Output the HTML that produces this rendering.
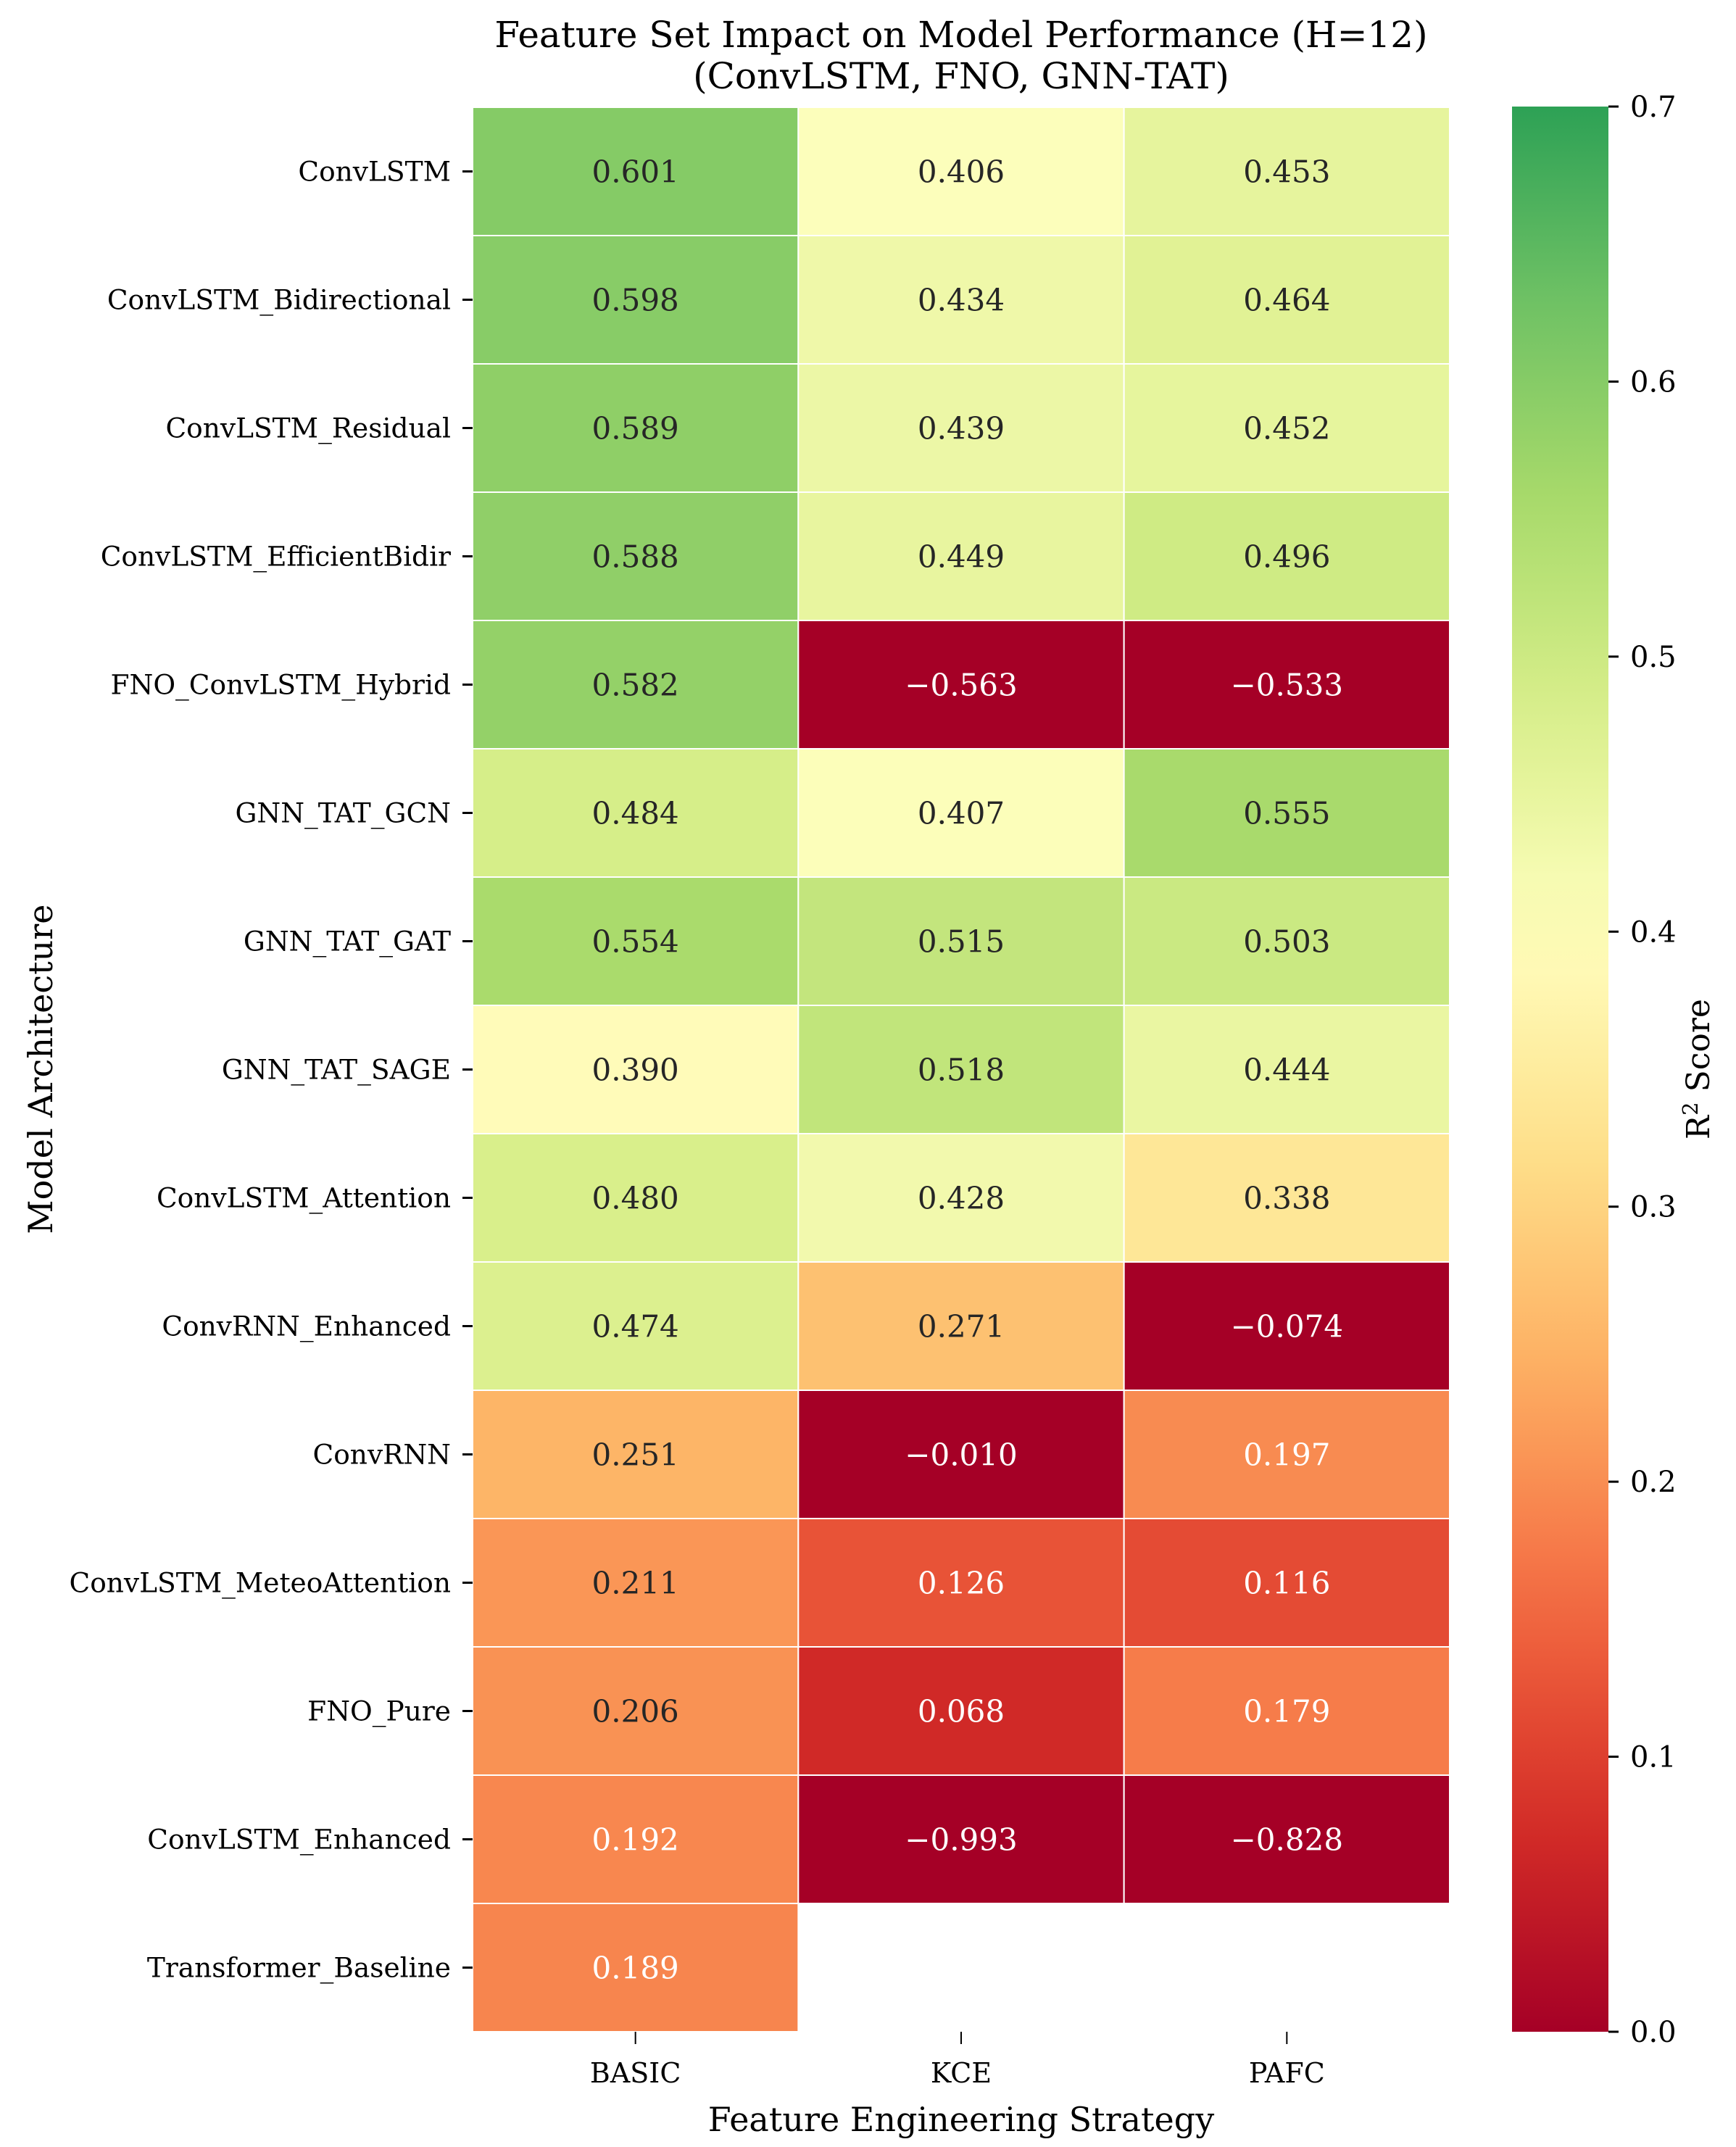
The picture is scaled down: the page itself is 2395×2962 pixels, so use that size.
<!DOCTYPE html>
<html><head><meta charset="utf-8"><style>
html,body{margin:0;padding:0;background:#fff}
svg{display:block;font-family:"DejaVu Serif","Liberation Serif",serif}
</style></head><body>
<svg id="chart" width="2395" height="2962" viewBox="0 0 2395 2962" xmlns="http://www.w3.org/2000/svg">
<defs>
<linearGradient id="cbgrad" x1="0" y1="1" x2="0" y2="0"></linearGradient>
</defs>
<text x="1326" y="65" font-size="50" text-anchor="middle">Feature Set Impact on Model Performance (H=12)</text>
<text x="1326" y="122" font-size="50" text-anchor="middle">(ConvLSTM, FNO, GNN-TAT)</text>
<g id="cells"></g>
<g id="yticks"></g>
<g id="xticks"></g>
<text transform="translate(72,1475) rotate(-90)" font-size="46" text-anchor="middle">Model Architecture</text>
<text x="1326" y="2940" font-size="46" text-anchor="middle">Feature Engineering Strategy</text>
<g id="colorbar"></g>
<text transform="translate(2358,1475) rotate(-90)" font-size="44" text-anchor="middle">R<tspan dy="-16" font-size="29">2</tspan><tspan dy="16"> Score</tspan></text>
</svg>
<script>
const models = ["ConvLSTM","ConvLSTM_Bidirectional","ConvLSTM_Residual","ConvLSTM_EfficientBidir","FNO_ConvLSTM_Hybrid","GNN_TAT_GCN","GNN_TAT_GAT","GNN_TAT_SAGE","ConvLSTM_Attention","ConvRNN_Enhanced","ConvRNN","ConvLSTM_MeteoAttention","FNO_Pure","ConvLSTM_Enhanced","Transformer_Baseline"];
const strategies = ["BASIC","KCE","PAFC"];
const basicValues = [0.601,0.598,0.589,0.588,0.582,0.484,0.554,0.390,0.480,0.474,0.251,0.211,0.206,0.192,0.189];
const kceValues = [0.406,0.434,0.439,0.449,-0.563,0.407,0.515,0.518,0.428,0.271,-0.010,0.126,0.068,-0.993,null];
const pafcValues = [0.453,0.464,0.452,0.496,-0.533,0.555,0.503,0.444,0.338,-0.074,0.197,0.116,0.179,-0.828,null];
const cbTicks = [0.0,0.1,0.2,0.3,0.4,0.5,0.6,0.7];
const vmin = 0, vmax = 0.7, cmapMax = 0.8;

const NS = "http://www.w3.org/2000/svg";
const L = 652, R = 2000, T = 148, B = 2803;
const colW = (R - L) / strategies.length, rowH = (B - T) / models.length;
const xPos = i => L + i * colW;
const yPos = i => T + i * rowH;
const stops = ["#a50026","#d73027","#f46d43","#fdae61","#fee08b","#ffffbf","#d9ef8b","#a6d96a","#66bd63","#1a9850","#006837"].map(h=>[1,3,5].map(k=>parseInt(h.substr(k,2),16)));
function cmap(v){
  let t = (Math.min(v, vmax) - vmin) / (cmapMax - vmin); t = Math.max(0, Math.min(1, t));
  const p = t * 10, i = Math.min(9, Math.floor(p)), f = p - i;
  return stops[i].map((c,k)=>Math.round(c + (stops[i+1][k]-c)*f));
}
function lum(rgb){
  const l = rgb.map(c=>{c/=255;return c<=0.03928?c/12.92:Math.pow((c+0.055)/1.055,2.4);});
  return 0.2126*l[0]+0.7152*l[1]+0.0722*l[2];
}
function mk(tag, attrs, parent){const e=document.createElementNS(NS,tag);for(const k in attrs)e.setAttribute(k,attrs[k]);parent.appendChild(e);return e;}

const grad = document.getElementById("cbgrad");
for (let k = 0; k <= 20; k++) {
  const v = vmin + (vmax - vmin) * k / 20;
  mk("stop",{offset:k/20,"stop-color":`rgb(${cmap(v)})`},grad);
}

const cells = document.getElementById("cells");
const series = [basicValues, kceValues, pafcValues];
series.forEach((vals, ci) => {
  vals.forEach((v, ri) => {
    if (v === null || v === undefined) return;
    const rgb = cmap(v);
    const r = mk("rect",{x:xPos(ci),y:yPos(ri),width:colW,height:rowH,fill:`rgb(${rgb})`,stroke:"#fff","stroke-width":2},cells);
    
    
    const t = mk("text",{x:xPos(ci)+colW/2,y:yPos(ri)+rowH/2+15,"font-size":42,"text-anchor":"middle",fill: lum(rgb) > 0.408 ? "#262626" : "#ffffff"},cells);
    
    
    t.textContent = (v < 0 ? "\u2212" : "") + Math.abs(v).toFixed(3);
  });
});

const yt = document.getElementById("yticks");
models.forEach((m, i) => {
  const cy = yPos(i) + rowH/2;
  const tk = mk("line",{x1:L-14,x2:L,y1:cy,y2:cy,stroke:"#000","stroke-width":3},yt);
  
  
  const t = mk("text",{x:L-30,y:cy+13,"font-size":37.5,"text-anchor":"end"},yt);
  
  
  t.textContent = m;
});
const xt = document.getElementById("xticks");
strategies.forEach((s, i) => {
  const cx = xPos(i) + colW/2;
  const tk = mk("line",{x1:cx,x2:cx,y1:B,y2:B+17,stroke:"#000","stroke-width":2},xt);
  
  
  const t = mk("text",{x:cx,y:2873,"font-size":38,"text-anchor":"middle"},xt);
  
  
  t.textContent = s;
});

const cb = document.getElementById("colorbar");
const CL = 2086, CR = 2219, CT = 147, CB = 2803;
const cbY = v => CB - (v - vmin) / (vmax - vmin) * (CB - CT);
const bar = mk("rect",{x:CL,y:CT,width:CR-CL,height:CB-CT,fill:"url(#cbgrad)"},cb);


cbTicks.forEach(v => {
  const y = cbY(v);
  const tk = mk("line",{x1:CR,x2:CR+14,y1:y,y2:y,stroke:"#000","stroke-width":3},cb);
  
  
  const t = mk("text",{x:CR+30,y:y+14,"font-size":40},cb);
  
  
  t.textContent = v.toFixed(1);
});
</script>
</body></html>
